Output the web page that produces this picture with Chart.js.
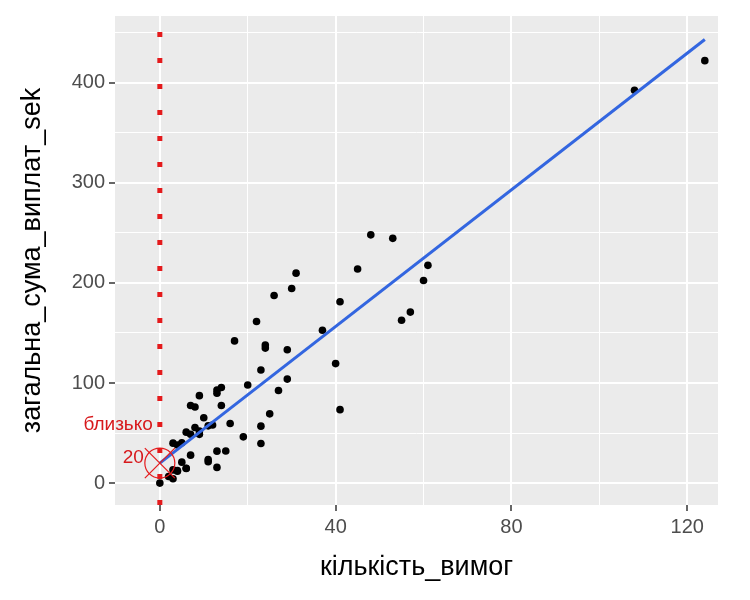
<!DOCTYPE html><html><head><meta charset="utf-8">
<script src="https://cdn.jsdelivr.net/npm/chart.js@4"></script>
<style>body{margin:0;background:#fff}#w{width:750px;height:600px}</style></head><body><div id="w"><canvas id="c"></canvas></div>
<script>
const claims=[108,19,13,124,40,57,23,14,45,10,5,48,11,23,7,2,24,6,3,23,6,9,9,3,29,7,4,20,7,4,0,25,6,5,22,11,61,12,4,16,13,60,41,37,55,41,11,27,8,3,17,13,13,15,8,29,30,24,9,31,14,53,26];
const payments=[392.5,46.2,15.7,422.2,119.4,170.9,56.9,77.5,214,65.3,20.9,248.1,23.5,39.6,48.8,6.6,134.9,50.9,4.4,113,14.8,48.7,52.1,13.2,103.9,77.5,11.8,98.1,27.9,38.1,0,69.2,14.6,40.3,161.5,57.2,217.6,58.1,12.6,59.6,89.9,202.4,181.3,152.8,162.8,73.4,21.3,92.6,76.1,39.9,142.1,93,31.9,32.1,55.6,133.3,194.5,137.9,87.4,209.8,95.5,244.6,187.5];
const xTicks=[0,40,80,120], yTicks=[0,100,200,300,400];
const annX=0, annY=20, annLabel1='близько', annLabel2='20';
const n=claims.length, mx=claims.reduce((a,b)=>a+b)/n, my=payments.reduce((a,b)=>a+b)/n;
let sxy=0,sxx=0;for(let i=0;i<n;i++){sxy+=(claims[i]-mx)*(payments[i]-my);sxx+=(claims[i]-mx)**2;}
const b=sxy/sxx,a=my-b*mx, xmin=Math.min(...claims), xmax=Math.max(...claims);
const X0=-10.2,X1=127,Y0=-21.9,Y1=466.8;
const F='"Liberation Sans", Arial';
const bg={id:'bg',beforeDraw(c){const{ctx,chartArea:r}=c;ctx.fillStyle='#EBEBEB';ctx.fillRect(r.left,r.top,r.width,r.height);}};
const ann={id:'ann',afterDatasetsDraw(c){const ctx=c.ctx,x=c.scales.x.getPixelForValue(annX),y=c.scales.y.getPixelForValue(annY);
ctx.save();ctx.strokeStyle='#E41A1C';ctx.lineWidth=1.2;ctx.beginPath();ctx.arc(x,y,15,0,Math.PI*2);ctx.stroke();
const d=15;ctx.beginPath();ctx.moveTo(x-d,y-d);ctx.lineTo(x+d,y+d);ctx.moveTo(x+d,y-d);ctx.lineTo(x-d,y+d);ctx.stroke();
ctx.fillStyle='#D7191C';ctx.font='19px '+F;ctx.textAlign='right';ctx.textBaseline='middle';
ctx.fillText(annLabel1,x-7,y-38);ctx.fillText(annLabel2,x-16,y-5);ctx.restore();}};
const major=(v,set)=>set.includes(v);
new Chart(document.getElementById('c'),{type:'scatter',data:{datasets:[
{data:claims.map((v,i)=>({x:v,y:payments[i]})),backgroundColor:'#000',borderWidth:0,pointRadius:3.8,order:2},
{type:'line',data:[{x:xmin,y:a+b*xmin},{x:xmax,y:a+b*xmax}],borderColor:'#3366E0',borderWidth:3,pointRadius:0,order:1},
{type:'line',data:[{x:annX,y:Y0},{x:annX,y:Y1}],borderColor:'#E41A1C',borderWidth:5,borderDash:[5,21],borderCapStyle:'butt',pointRadius:0,order:0}
]},options:{responsive:true,maintainAspectRatio:false,animation:false,events:[],
layout:{padding:{top:15,right:32,left:12,bottom:0}},
plugins:{legend:{display:false},tooltip:{enabled:false}},
scales:{
x:{type:'linear',min:X0,max:X1,afterFit(s){s.height=95;},afterBuildTicks(s){s.ticks=[0,20,40,60,80,100,120].map(v=>({value:v}));},
border:{display:false},grid:{color:'#fff',lineWidth:c=>major(c.tick.value,xTicks)?2:1,tickLength:6,tickColor:c=>major(c.tick.value,xTicks)?'#333':'rgba(0,0,0,0)',tickWidth:1.5},
ticks:{color:'#4D4D4D',font:{size:20,family:F},padding:4,callback:v=>xTicks.includes(v)?String(v):''},
title:{display:true,text:'кількість_вимог',color:'#000',font:{size:27,family:F},padding:{top:2,bottom:16}}},
y:{type:'linear',min:Y0,max:Y1,afterFit(s){s.width=103;},afterBuildTicks(s){s.ticks=[0,50,100,150,200,250,300,350,400,450].map(v=>({value:v}));},
border:{display:false},grid:{color:'#fff',lineWidth:c=>major(c.tick.value,yTicks)?2:1,tickLength:6,tickColor:c=>major(c.tick.value,yTicks)?'#333':'rgba(0,0,0,0)',tickWidth:1.5},
ticks:{color:'#4D4D4D',font:{size:20,family:F},padding:4,callback:v=>yTicks.includes(v)?String(v):''},
title:{display:true,text:'загальна_сума_виплат_sek',color:'#000',font:{size:27,family:F},padding:{bottom:4}}}
}},plugins:[bg,ann]});
</script></body></html>
